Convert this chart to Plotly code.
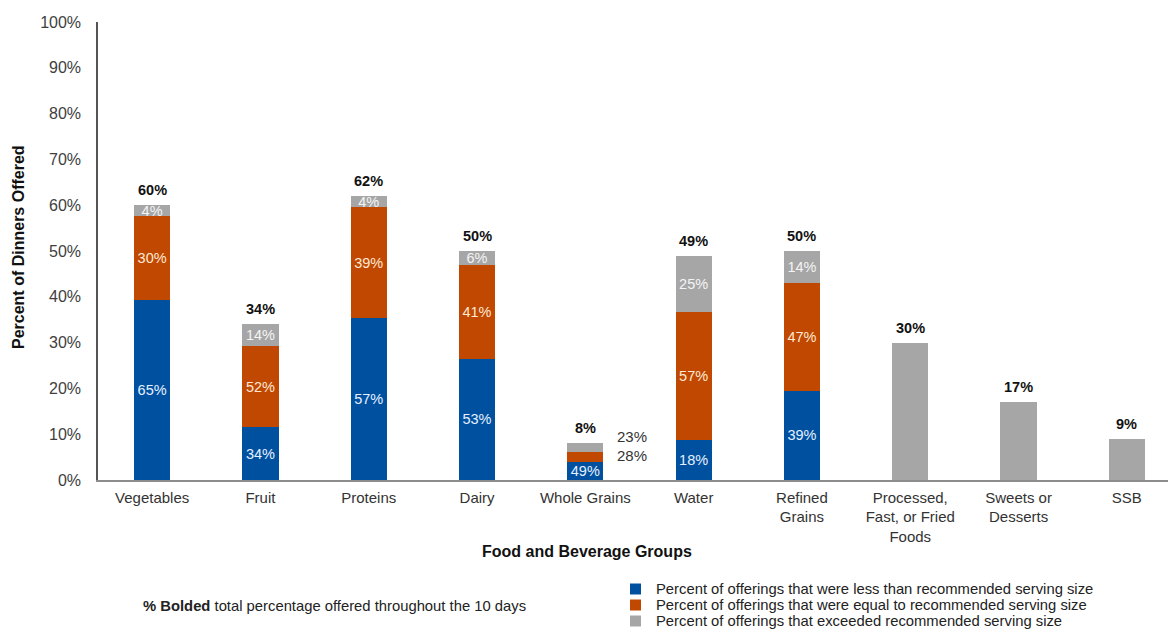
import plotly.graph_objects as go

# Food and beverage groups offered at dinner
categories = ["Vegetables", "Fruit", "Proteins", "Dairy", "Whole Grains", "Water",
              "Refined<br>Grains", "Processed,<br>Fast, or Fried<br>Foods",
              "Sweets or<br>Desserts", "SSB"]

# Total percent of dinners offering each group
totals = [60, 34, 62, 50, 8, 49, 50, 30, 17, 9]

# Share of offerings relative to recommended serving size (percent of the group's offerings)
less_share = [65, 34, 57, 53, 49, 18, 39, None, None, None]
equal_share = [30, 52, 39, 41, 28, 57, 47, None, None, None]
exceed_share = [4, 14, 4, 6, 23, 25, 14, None, None, None]

# Groups whose small segments are labelled beside the bar
beside_labels = {"Whole Grains"}

BLUE = "#0050A0"
ORANGE = "#C04800"
GREY = "#A6A6A6"
FONT = "Liberation Sans, Arial, sans-serif"

# Plot area geometry in pixels (used to place the key and notes)
W, H = 1168, 630
ML, MR, MT, MB = 98, 0, 22, 150
PW, PH = W - ML - MR, H - MT - MB


def px_x(px):
    return (px - ML) / PW


def px_y(py):
    return (H - MB - py) / PH


x = list(range(len(categories)))
plain = [c.replace("<br>", " ") for c in categories]

less_h, equal_h, exceed_h = [], [], []
for t, a, b, c in zip(totals, less_share, equal_share, exceed_share):
    if a is None:
        less_h.append(0)
        equal_h.append(0)
        exceed_h.append(t)
    else:
        s = a + b + c
        less_h.append(t * a / s)
        equal_h.append(t * b / s)
        exceed_h.append(t * c / s)


def seg_text(shares, hide_beside):
    out = []
    for name, v in zip(plain, shares):
        if v is None or (hide_beside and name in beside_labels):
            out.append("")
        else:
            out.append(f"{v}%")
    return out


fig = go.Figure()
series = [
    ("Percent of offerings that were less than recommended serving size", less_h,
     seg_text(less_share, False), BLUE, "#E6F0FF"),
    ("Percent of offerings that were equal to recommended serving size", equal_h,
     seg_text(equal_share, True), ORANGE, "#FFE9D6"),
    ("Percent of offerings that exceeded recommended serving size", exceed_h,
     seg_text(exceed_share, True), GREY, "#F4F4F4"),
]
for name, h, txt, col, tcol in series:
    fig.add_trace(go.Bar(
        x=x, y=h, name=name, marker=dict(color=col, line=dict(width=0)),
        text=txt, textposition="inside", insidetextanchor="middle",
        constraintext="none", textangle=0,
        textfont=dict(family=FONT, size=14.5, color=tcol),
        width=0.335, hoverinfo="skip", showlegend=False,
    ))

# Bold totals above each bar
for xi, t in zip(x, totals):
    fig.add_annotation(x=xi, y=t, text=f"<b>{t}%</b>", showarrow=False,
                       yanchor="bottom", yshift=5,
                       font=dict(family=FONT, size=14.5, color="#111111"))

# Segment labels placed beside narrow bars
for xi, name in zip(x, plain):
    if name in beside_labels:
        base = less_h[xi]
        fig.add_annotation(x=xi, y=base + equal_h[xi] + exceed_h[xi] / 2,
                           text=f"{exceed_share[xi]}%", showarrow=False,
                           xanchor="center", xshift=47, yshift=11,
                           font=dict(family=FONT, size=15, color="#333333"))
        fig.add_annotation(x=xi, y=base + equal_h[xi] / 2,
                           text=f"{equal_share[xi]}%", showarrow=False,
                           xanchor="center", xshift=47, yshift=1,
                           font=dict(family=FONT, size=15, color="#333333"))

# Axis titles and note
fig.add_annotation(xref="paper", yref="paper", x=px_x(18), y=px_y(247),
                   text="<b>Percent of Dinners Offered</b>", textangle=-90,
                   showarrow=False, xanchor="center", yanchor="middle",
                   font=dict(family=FONT, size=16, color="#111111"))
fig.add_annotation(xref="paper", yref="paper", x=px_x(587), y=px_y(551),
                   text="<b>Food and Beverage Groups</b>", showarrow=False,
                   xanchor="center", yanchor="middle",
                   font=dict(family=FONT, size=16, color="#111111"))
fig.add_annotation(xref="paper", yref="paper", x=px_x(141), y=px_y(606),
                   text="<b>% Bolded</b> total percentage offered throughout the 10 days",
                   showarrow=False, xanchor="left", yanchor="middle",
                   font=dict(family=FONT, size=14.8, color="#222222"))

# Key for the three segment types
key_rows = [589, 605, 621]
for (name, _, _, col, _), row in zip(series, key_rows):
    fig.add_shape(type="rect", xref="paper", yref="paper",
                  x0=px_x(630), x1=px_x(641), y0=px_y(row + 5.5), y1=px_y(row - 5.5),
                  fillcolor=col, line=dict(width=0))
    fig.add_annotation(xref="paper", yref="paper", x=px_x(654), y=px_y(row),
                       text=name, showarrow=False, xanchor="left", yanchor="middle",
                       font=dict(family=FONT, size=14.8, color="#222222"))

fig.update_layout(
    barmode="stack",
    width=W, height=H,
    margin=dict(l=ML, r=MR, t=MT, b=MB, autoexpand=False),
    paper_bgcolor="white", plot_bgcolor="white",
    font=dict(family=FONT, color="#333333"),
    showlegend=False,
    xaxis=dict(range=[-0.5, 9.38], tickmode="array", tickvals=x, ticktext=categories,
               showline=True, linecolor="#8C8C8C", linewidth=1.5, showgrid=False,
               zeroline=False, ticks="", automargin=False,
               tickfont=dict(family=FONT, size=15, color="#333333"),
               ticklabelstandoff=3),
    yaxis=dict(range=[0, 100], dtick=10, ticksuffix="%", showline=True,
               linecolor="#555555", linewidth=1.5, showgrid=False, zeroline=False,
               ticks="", automargin=False,
               tickfont=dict(family=FONT, size=16, color="#404040"),
               ticklabelstandoff=12),
)

fig.write_html("out.html")
